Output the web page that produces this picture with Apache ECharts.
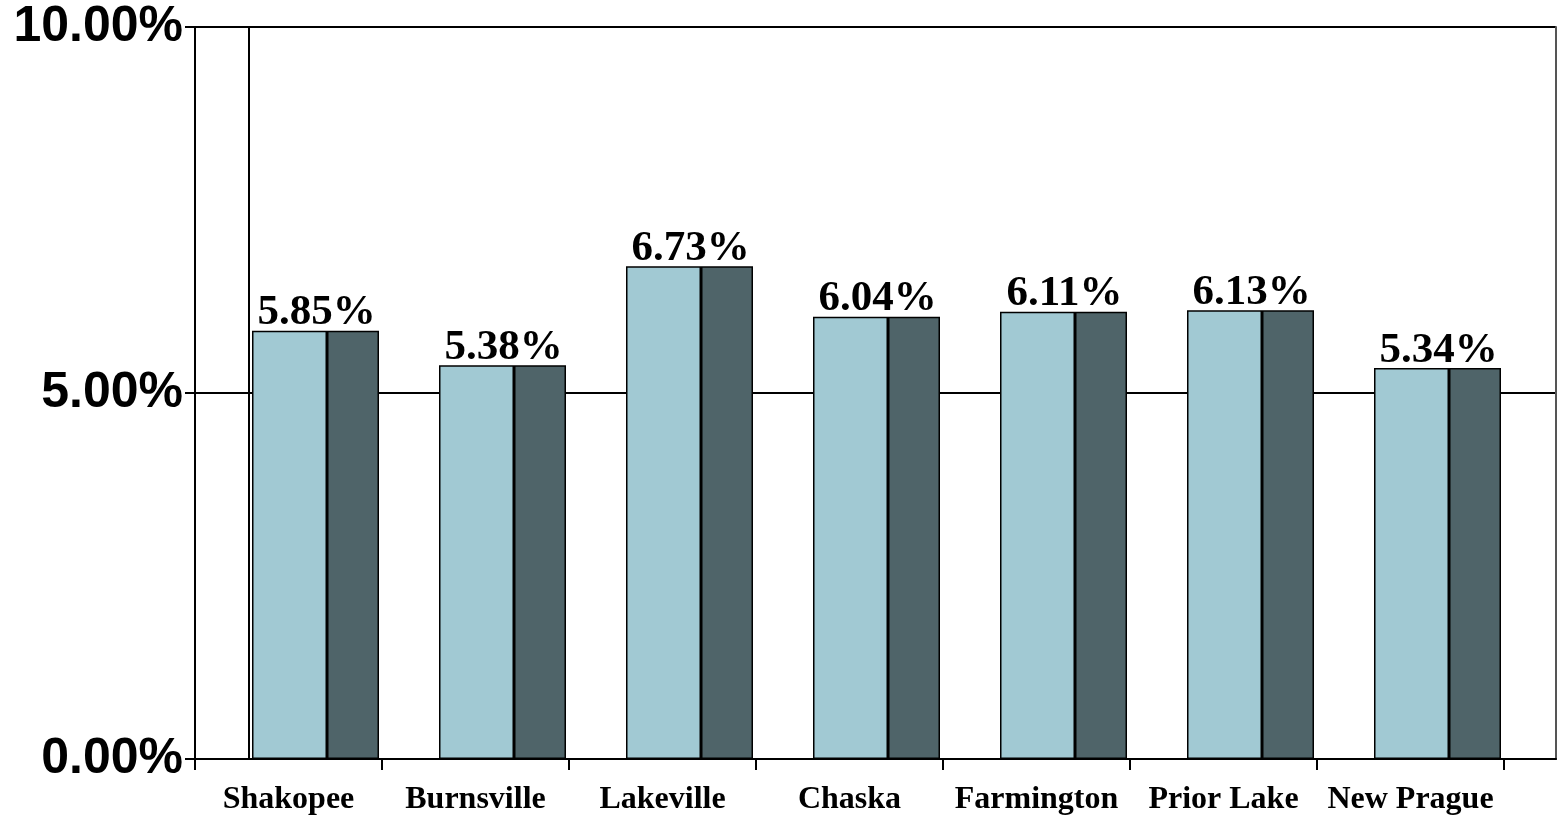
<!DOCTYPE html>
<html>
<head>
<meta charset="utf-8">
<title>Rate by City</title>
<script src="https://cdn.jsdelivr.net/npm/echarts@6/dist/echarts.min.js"></script>
<style>
  html, body { margin: 0; padding: 0; background: #fff; }
  #chart { width: 1557px; height: 816px; }
</style>
</head>
<body>
<div id="chart"></div>
<script>
// City categories and their rates (percent)
const cities = ['Shakopee', 'Burnsville', 'Lakeville', 'Chaska', 'Farmington', 'Prior Lake', 'New Prague'];
const ratesFront = [5.85, 5.38, 6.73, 6.04, 6.11, 6.13, 5.34];
const ratesBack  = [5.85, 5.38, 6.73, 6.04, 6.11, 6.13, 5.34];
const yTicks = [0, 5, 10];

const LIGHT = '#A1C9D3';
const DARK = '#4F6469';

const chart = echarts.init(document.getElementById('chart'), null, { renderer: 'canvas' });

const pct = v => Number(v).toFixed(2) + '%';
const hiddenValueAxis = (gridIndex) => ({
  type: 'value', gridIndex, min: yTicks[0], max: yTicks[yTicks.length - 1], interval: 5,
  axisLine: { show: false }, axisTick: { show: false }, axisLabel: { show: false }, splitLine: { show: false }
});

chart.setOption({
  animation: false,
  backgroundColor: '#ffffff',
  grid: [
    // frame: value axis, gridlines, outer lines
    { left: 195, right: 1, top: 27, bottom: 57 },
    // category ticks and labels
    { left: 195, right: 53, top: 27, bottom: 57 },
    // bars
    { left: 222, right: 26, top: 27, bottom: 57 }
  ],
  xAxis: [
    {
      type: 'value', gridIndex: 0, min: 0, max: 1, position: 'bottom',
      axisLine: { show: true, lineStyle: { color: '#000', width: 2 } },
      axisTick: { show: false }, axisLabel: { show: false }, splitLine: { show: false }
    },
    {
      type: 'category', gridIndex: 1, data: cities, position: 'bottom',
      axisLine: { show: false },
      axisTick: { show: true, interval: 0, length: 12, lineStyle: { color: '#000', width: 2 } },
      axisLabel: {
        show: true, interval: 0, margin: 26, color: '#000',
        fontFamily: '"Liberation Serif", "Times New Roman", serif', fontWeight: 'bold', fontSize: 32
      },
      splitLine: { show: false }
    },
    {
      type: 'category', gridIndex: 2, data: cities, show: false
    }
  ],
  yAxis: [
    {
      type: 'value', gridIndex: 0, min: 0, max: 10, interval: 5, position: 'left',
      axisLine: { show: true, lineStyle: { color: '#000', width: 2 } },
      axisTick: { show: true, length: 10, lineStyle: { color: '#000', width: 2 } },
      axisLabel: {
        show: true, margin: 12, color: '#000', formatter: pct, padding: [9, 0, 0, 0],
        fontFamily: '"Liberation Sans", Arial, sans-serif', fontWeight: 'bold', fontSize: 50
      },
      splitLine: { show: true, lineStyle: { color: '#000', width: 2 } }
    },
    {
      type: 'value', gridIndex: 0, min: 0, max: 10, position: 'right',
      axisLine: { show: true, lineStyle: { color: '#555', width: 2 } },
      axisTick: { show: false }, axisLabel: { show: false }, splitLine: { show: false }
    },
    {
      type: 'value', gridIndex: 0, min: 0, max: 10, position: 'left', offset: -54,
      axisLine: { show: true, lineStyle: { color: '#000', width: 2 } },
      axisTick: { show: false }, axisLabel: { show: false }, splitLine: { show: false }
    },
    hiddenValueAxis(1),
    hiddenValueAxis(2)
  ],
  series: [
    {
      type: 'bar', name: 'front', xAxisIndex: 2, yAxisIndex: 4,
      data: ratesFront, barWidth: 75, barGap: '0%',
      itemStyle: { color: LIGHT, borderColor: '#000', borderWidth: 1.5 },
      label: {
        show: true, position: 'top', distance: -4, offset: [27, 0],
        formatter: p => pct(p.value), color: '#000',
        fontFamily: '"Liberation Serif", "Times New Roman", serif', fontWeight: 'bold', fontSize: 43
      },
      z: 3
    },
    {
      type: 'bar', name: 'back', xAxisIndex: 2, yAxisIndex: 4,
      data: ratesBack, barWidth: 52, barGap: '0%',
      itemStyle: { color: DARK, borderColor: '#000', borderWidth: 1.5 },
      z: 3
    }
  ]
});
</script>
</body>
</html>
